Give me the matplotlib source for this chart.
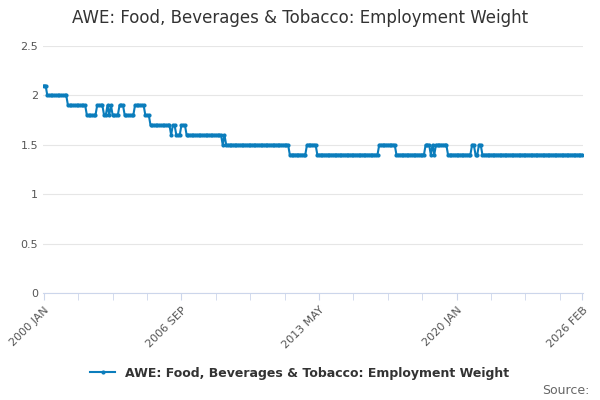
import matplotlib
matplotlib.use('Agg')
import matplotlib.pyplot as plt
import numpy as np

# (value, number of months) runs, starting 2000 JAN
run_values = [2.1, 2.0, 1.9, 1.8, 1.9, 1.8, 1.9, 1.8, 1.9, 1.8, 1.9, 1.8, 1.9, 1.8,
              1.7, 1.6, 1.7, 1.6, 1.7, 1.6, 1.5, 1.6, 1.5, 1.4, 1.5, 1.4, 1.5, 1.4,
              1.5, 1.4, 1.5, 1.4, 1.5, 1.4, 1.5, 1.4, 1.5, 1.4]
run_counts = [2, 12, 11, 6, 4, 2, 1, 1, 1, 4, 3, 6, 6, 3,
              12, 1, 2, 3, 3, 21, 1, 1, 37, 10, 6, 36, 10, 17,
              3, 1, 1, 1, 7, 14, 2, 2, 2, 59]
tick_labels = ['2000 JAN', '2006 SEP', '2013 MAY', '2020 JAN', '2026 FEB']
tick_pos = [0, 80, 160, 240, 313]

values = np.repeat(run_values, run_counts)
x = np.arange(len(values))
color = '#0b7dbc'

fig = plt.figure(figsize=(6, 4), dpi=100)
ax = fig.add_axes([0.0717, 0.2675, 0.9, 0.6175])
ax.plot(x, values, color=color, lw=1.5, marker='o', ms=2)
ax.set_xlim(-0.5, 313.5)
ax.set_ylim(0, 2.5)
ax.set_yticks([0, 0.5, 1, 1.5, 2, 2.5])
ax.set_yticklabels(['0', '0.5', '1', '1.5', '2', '2.5'])
ax.grid(axis='y', color='#e6e6e6', lw=0.8)
ax.set_axisbelow(True)
ax.set_xticks(tick_pos)
ax.set_xticklabels(tick_labels, rotation=45, ha='right', rotation_mode='anchor')
ax.set_xticks(np.arange(0, 314, 20), minor=True)
ax.tick_params(axis='x', which='both', length=5, color='#ccd6eb', labelsize=8, labelcolor='#555555')
ax.tick_params(axis='y', length=0, labelsize=8, labelcolor='#555555')
for s in ['top', 'right', 'left']:
    ax.spines[s].set_visible(False)
ax.spines['bottom'].set_color('#ccd6eb')

fig.text(0.5, 0.955, 'AWE: Food, Beverages & Tobacco: Employment Weight',
         ha='center', va='center', fontsize=12, color='#333333')
fig.legend(handles=ax.lines, labels=['AWE: Food, Beverages & Tobacco: Employment Weight'],
           loc='center', bbox_to_anchor=(0.5, 0.067), frameon=False,
           prop={'size': 9, 'weight': 'bold'}, labelcolor='#333333')
fig.text(0.982, 0.025, 'Source:', ha='right', va='center', fontsize=9, color='#666666')
fig.savefig('out.png', dpi=100)
